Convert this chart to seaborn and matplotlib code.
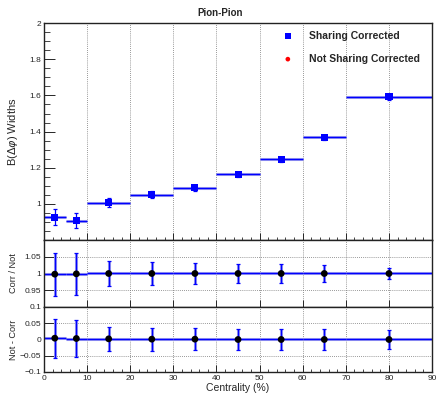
import numpy as np
import pandas as pd
import matplotlib
matplotlib.use("Agg")
import matplotlib.pyplot as plt
import seaborn as sns

# centrality bins
centers = [2.5, 7.5, 15, 25, 35, 45, 55, 65, 80]
half_widths = [2.5, 2.5, 5, 5, 5, 5, 5, 5, 10]

# B(dphi) widths, sharing corrected
widths = [0.926, 0.907, 1.006, 1.050, 1.090, 1.164, 1.246, 1.368, 1.592]
width_err = [0.044, 0.043, 0.025, 0.020, 0.017, 0.015, 0.015, 0.014, 0.015]

# ratio Corr / Not
ratio = [0.998, 0.999, 1.0, 1.0, 1.0, 1.0, 1.0, 1.0, 1.0]
ratio_err = [0.064, 0.063, 0.037, 0.034, 0.031, 0.029, 0.027, 0.024, 0.017]

# difference Not - Corr
diff = [0.004, 0.003, 0.002, 0.001, 0.001, 0.0, 0.0, 0.0, 0.0]
diff_err = [0.060, 0.057, 0.036, 0.035, 0.033, 0.032, 0.032, 0.032, 0.028]

not_corr = [w + d for w, d in zip(widths, diff)]

sns.set_style("ticks")
plt.rcParams['font.family'] = ['Liberation Sans', 'DejaVu Sans']

df = pd.DataFrame({"cent": centers, "hw": half_widths, "bw": widths, "bw_err": width_err,
                   "notcorr": not_corr, "ratio": ratio, "ratio_err": ratio_err,
                   "diff": diff, "diff_err": diff_err})

fig = plt.figure(figsize=(4.41, 3.99), dpi=100)
ax1 = fig.add_axes([0.0998, 0.3985, 0.88, 0.5434])
ax2 = fig.add_axes([0.0998, 0.2306, 0.88, 0.1679])
ax3 = fig.add_axes([0.0998, 0.0677, 0.88, 0.1629])

grid_kw = dict(color="#777777", linestyle=(0, (1, 1.5)), linewidth=0.6)
blue = "#0000ff"
light = "#9999ee"

# ---- top panel
for x in range(10, 90, 10):
    ax1.axvline(x, zorder=0, **grid_kw)
ax1.errorbar(df["cent"], df["bw"], xerr=df["hw"], fmt="none", ecolor=light, elinewidth=2.2, zorder=1)
ax1.errorbar(df["cent"], df["bw"], xerr=df["hw"], fmt="none", ecolor=blue, elinewidth=0.9, zorder=2)
ax1.errorbar(df["cent"], df["bw"], yerr=df["bw_err"], fmt="none", ecolor=blue, elinewidth=0.9,
             capsize=1.2, capthick=0.9, zorder=2)
sns.scatterplot(data=df, x="cent", y="notcorr", ax=ax1, color="red", marker="o", s=14,
                edgecolor="none", zorder=3, label="Not Sharing Corrected", legend=False)
sns.scatterplot(data=df, x="cent", y="bw", ax=ax1, color=blue, marker="s", s=26,
                edgecolor="none", zorder=4, label="Sharing Corrected", legend=False)
ax1.set_xlim(0, 90)
ax1.set_ylim(0.8, 2)
ax1.set_yticks([1.0, 1.2, 1.4, 1.6, 1.8, 2.0])
ax1.set_yticklabels(["1", "1.2", "1.4", "1.6", "1.8", "2"])
ax1.set_yticks(np.arange(0.8, 2.0, 0.05), minor=True)
ax1.set_xticks(range(0, 91, 10))
ax1.set_xticks(range(0, 91, 2), minor=True)
ax1.tick_params(axis="x", labelbottom=False)
ax1.set_xlabel("")
ax1.set_ylabel(r"B($\Delta\varphi$) Widths", fontsize=8)
fig.text(0.5, 0.968, "Pion-Pion", fontsize=7, fontweight="bold", ha="center", va="center")
h, l = ax1.get_legend_handles_labels()
ax1.legend(h[::-1], l[::-1], loc="upper left", bbox_to_anchor=(0.58, 1.003), frameon=False,
           prop={"size": 7.5, "weight": "bold"}, handletextpad=1.0, labelspacing=1.25,
           markerscale=0.9, handlelength=2.0, borderpad=0.3)

# ---- ratio panels
for ax, col, err, ylim, ticks, labels, ylab in [
        (ax2, "ratio", "ratio_err", (0.9, 1.1), [0.95, 1.0, 1.05], ["0.95", "1", "1.05"], "Corr / Not"),
        (ax3, "diff", "diff_err", (-0.1, 0.1), [-0.1, -0.05, 0.0, 0.05, 0.1],
         ["\u22120.1", "\u22120.05", "0", "0.05", "0.1"], "Not - Corr")]:
    for x in range(10, 90, 10):
        ax.axvline(x, zorder=0, **grid_kw)
    for y in ticks:
        ax.axhline(y, zorder=0, **grid_kw)
    ax.errorbar(df["cent"], df[col], xerr=df["hw"], yerr=df[err], fmt="none", ecolor=light,
                elinewidth=2.2, zorder=1)
    ax.errorbar(df["cent"], df[col], xerr=df["hw"], fmt="none", ecolor=blue, elinewidth=0.9, zorder=2)
    ax.errorbar(df["cent"], df[col], yerr=df[err], fmt="none", ecolor=blue, elinewidth=0.9,
                capsize=1.2, capthick=0.9, zorder=2)
    sns.scatterplot(data=df, x="cent", y=col, ax=ax, color="black", marker="o", s=24,
                    edgecolor="none", zorder=4)
    ax.set_xlim(0, 90)
    ax.set_ylim(*ylim)
    ax.set_yticks(ticks)
    ax.set_yticklabels(labels)
    ax.set_ylabel(ylab, fontsize=6.6)
    ax.yaxis.set_label_coords(-0.066, 0.5)

ax2.set_xticks(range(0, 91, 10))
ax2.tick_params(axis="x", labelbottom=False, length=0)
ax2.set_xlabel("")
ax3.set_xticks(range(0, 91, 10))
ax3.set_xticks(range(0, 91, 2), minor=True)
ax3.set_xlabel("Centrality (%)", fontsize=7.5, labelpad=1)
ax1.yaxis.set_label_coords(-0.062, 0.5)

for ax in (ax1, ax2, ax3):
    ax.tick_params(direction="in", labelsize=6, width=0.7, length=5, pad=2)
    ax.tick_params(which="minor", direction="in", width=0.6, length=2.5)
    ax.tick_params(axis="y", length=8)
    ax.tick_params(axis="y", which="minor", length=4)
    for s in ax.spines.values():
        s.set_linewidth(1.0)
        s.set_color("#222222")

fig.savefig("out.png", dpi=100)
